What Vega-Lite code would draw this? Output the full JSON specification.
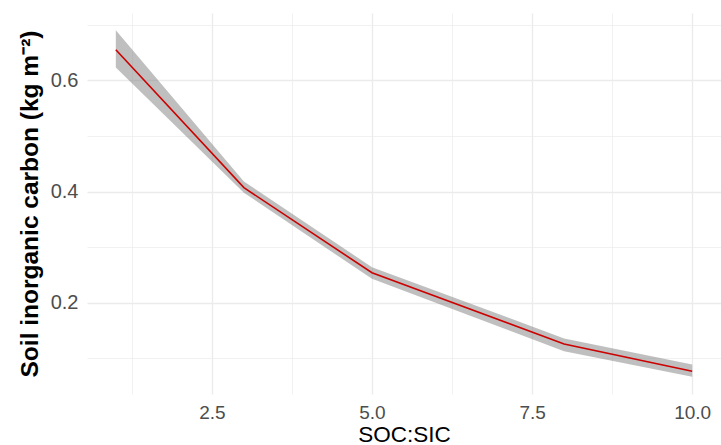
{
  "$schema": "https://vega.github.io/schema/vega-lite/v6.json",
  "width": 634,
  "height": 381,
  "autosize": {"type": "none"},
  "padding": {"left": 87, "top": 13, "right": 0, "bottom": 51},
  "background": "white",
  "config": {
    "view": {"stroke": null},
    "font": "Liberation Sans",
    "axis": {
      "domain": false,
      "ticks": false,
      "gridColor": "#EBEBEB",
      "labelFont": "Liberation Sans",
      "labelFontSize": 20,
      "labelColor": "#4D4D4D",
      "titleFont": "Liberation Sans",
      "titleFontSize": 23,
      "titleColor": "#000000"
    }
  },
  "data": {
    "values": [
      {"ratio": 1, "fit": 0.655, "lo": 0.623, "hi": 0.690},
      {"ratio": 3, "fit": 0.407, "lo": 0.398, "hi": 0.418},
      {"ratio": 5, "fit": 0.254, "lo": 0.243, "hi": 0.264},
      {"ratio": 8, "fit": 0.126, "lo": 0.113, "hi": 0.136},
      {"ratio": 10, "fit": 0.077, "lo": 0.067, "hi": 0.089}
    ]
  },
  "encoding": {
    "x": {
      "field": "ratio",
      "type": "quantitative",
      "scale": {"domain": [0.55, 10.45], "nice": false, "zero": false},
      "axis": {
        "title": "SOC:SIC",
        "titleFontWeight": "normal",
        "titleFontSize": 22.5,
        "values": [1.25, 2.5, 3.75, 5, 6.25, 7.5, 8.75, 10],
        "labelExpr": "abs(datum.value / 2.5 - round(datum.value / 2.5)) < 0.001 ? format(datum.value, '.1f') : ''",
        "labelFontSize": 19,
        "labelPadding": 9,
        "titlePadding": 1,
        "gridWidth": {"condition": {"test": "abs(datum.value / 2.5 - round(datum.value / 2.5)) > 0.001", "value": 0.7}, "value": 1.3}
      }
    }
  },
  "layer": [
    {
      "mark": {"type": "area", "color": "#7F7F7F", "opacity": 0.5},
      "encoding": {
        "y": {
          "field": "lo",
          "type": "quantitative",
          "scale": {"domain": [0.036, 0.721], "nice": false, "zero": false},
          "axis": {
            "title": "Soil inorganic carbon (kg m⁻²)",
            "titleFontWeight": "bold",
            "titleFontSize": 24.5,
            "values": [0.1, 0.2, 0.3, 0.4, 0.5, 0.6, 0.7],
            "labelExpr": "round(datum.value * 10) % 2 == 0 ? format(datum.value, '.1f') : ''",
            "labelPadding": 9,
            "titlePadding": 8,
            "gridWidth": {"condition": {"test": "round(datum.value * 10) % 2 == 1", "value": 0.7}, "value": 1.3}
          }
        },
        "y2": {"field": "hi"}
      }
    },
    {
      "mark": {"type": "line", "color": "#CC0000", "strokeWidth": 1.6},
      "encoding": {
        "y": {"field": "fit", "type": "quantitative"}
      }
    }
  ]
}
